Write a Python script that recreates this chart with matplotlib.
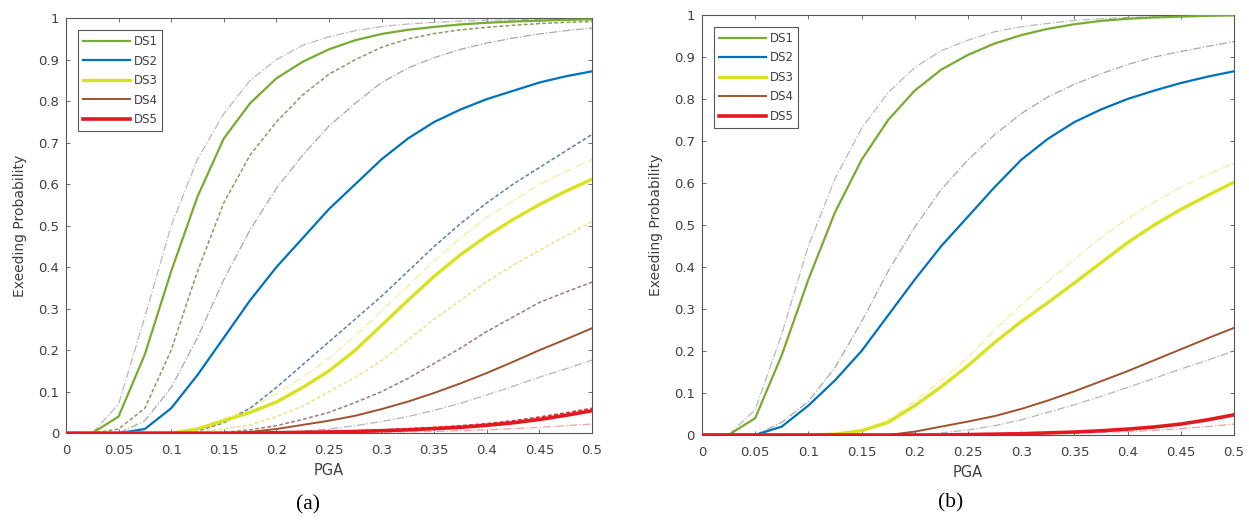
"""Exceedance probability curves, panels (a) and (b)."""

import matplotlib
matplotlib.use("Agg")
import matplotlib.pyplot as plt

pga = [0.0, 0.025, 0.05, 0.075, 0.1, 0.125, 0.15, 0.175, 0.2, 0.225, 0.25,
       0.275, 0.3, 0.325, 0.35, 0.375, 0.4, 0.425, 0.45, 0.475, 0.5]

ds_labels = ["DS1", "DS2", "DS3", "DS4", "DS5"]
xtick_vals = [0, 0.05, 0.1, 0.15, 0.2, 0.25, 0.3, 0.35, 0.4, 0.45, 0.5]
xtick_labels = ["0", "0.05", "0.1", "0.15", "0.2", "0.25", "0.3", "0.35", "0.4", "0.45", "0.5"]
ytick_vals = [0, 0.1, 0.2, 0.3, 0.4, 0.5, 0.6, 0.7, 0.8, 0.9, 1.0]
ytick_labels = ["0", "0.1", "0.2", "0.3", "0.4", "0.5", "0.6", "0.7", "0.8", "0.9", "1"]

# panel (a): main curves
a_main = [
    [0, 0, 0.04, 0.19, 0.39, 0.57, 0.71, 0.795, 0.855, 0.895, 0.925, 0.947, 0.962, 0.972, 0.979, 0.985, 0.989, 0.992, 0.994, 0.996, 0.997],
    [0, 0, 0, 0.01, 0.06, 0.14, 0.23, 0.32, 0.40, 0.47, 0.54, 0.60, 0.66, 0.71, 0.75, 0.78, 0.805, 0.825, 0.845, 0.86, 0.872],
    [0, 0, 0, 0, 0, 0.01, 0.03, 0.05, 0.075, 0.11, 0.15, 0.20, 0.26, 0.32, 0.378, 0.43, 0.475, 0.515, 0.551, 0.583, 0.612],
    [0, 0, 0, 0, 0, 0, 0, 0.003, 0.01, 0.02, 0.03, 0.042, 0.058, 0.076, 0.097, 0.12, 0.145, 0.172, 0.2, 0.226, 0.253],
    [0, 0, 0, 0, 0, 0, 0, 0, 0.001, 0.002, 0.003, 0.004, 0.006, 0.008, 0.011, 0.014, 0.019, 0.025, 0.033, 0.043, 0.054],
]
# panel (a): alternative model (dashed with markers)
a_alt = [
    [0, 0, 0.01, 0.06, 0.2, 0.39, 0.555, 0.67, 0.75, 0.815, 0.865, 0.90, 0.93, 0.95, 0.963, 0.972, 0.978, 0.983, 0.987, 0.99, 0.992],
    [0, 0, 0, 0, 0, 0.005, 0.025, 0.06, 0.11, 0.165, 0.22, 0.275, 0.33, 0.39, 0.45, 0.505, 0.555, 0.60, 0.64, 0.68, 0.72],
    [0, 0, 0, 0, 0, 0.003, 0.01, 0.02, 0.04, 0.065, 0.1, 0.135, 0.175, 0.225, 0.275, 0.32, 0.365, 0.405, 0.44, 0.475, 0.51],
    [0, 0, 0, 0, 0, 0, 0.002, 0.008, 0.018, 0.033, 0.05, 0.074, 0.1, 0.132, 0.168, 0.205, 0.245, 0.28, 0.315, 0.34, 0.364],
    [0, 0, 0, 0, 0, 0, 0, 0, 0.001, 0.002, 0.004, 0.006, 0.008, 0.011, 0.014, 0.018, 0.023, 0.03, 0.039, 0.049, 0.06],
]
# panel (a): reference curves (thin dash-dot)
a_ref = [
    [0, 0, 0.07, 0.28, 0.50, 0.66, 0.77, 0.85, 0.90, 0.935, 0.955, 0.97, 0.98, 0.986, 0.99, 0.993, 0.995, 0.996, 0.997, 0.998, 0.998],
    [0, 0, 0, 0.03, 0.11, 0.23, 0.37, 0.49, 0.59, 0.67, 0.74, 0.795, 0.845, 0.88, 0.905, 0.925, 0.94, 0.952, 0.962, 0.97, 0.976],
    [0, 0, 0, 0, 0, 0.012, 0.035, 0.06, 0.095, 0.135, 0.18, 0.235, 0.295, 0.355, 0.415, 0.47, 0.52, 0.56, 0.60, 0.63, 0.66],
    [0, 0, 0, 0, 0, 0, 0, 0, 0, 0.005, 0.01, 0.018, 0.028, 0.04, 0.055, 0.072, 0.092, 0.113, 0.135, 0.155, 0.176],
    [0, 0, 0, 0, 0, 0, 0, 0, 0, 0, 0, 0.001, 0.002, 0.003, 0.004, 0.006, 0.008, 0.011, 0.014, 0.018, 0.022],
]

# panel (b): main curves
b_main = [
    [0, 0, 0.04, 0.19, 0.37, 0.53, 0.655, 0.75, 0.82, 0.87, 0.905, 0.932, 0.952, 0.967, 0.978, 0.986, 0.991, 0.994, 0.996, 0.998, 0.999],
    [0, 0, 0, 0.02, 0.07, 0.13, 0.2, 0.285, 0.37, 0.45, 0.52, 0.59, 0.655, 0.705, 0.745, 0.775, 0.80, 0.82, 0.838, 0.853, 0.866],
    [0, 0, 0, 0, 0, 0.002, 0.01, 0.03, 0.07, 0.115, 0.165, 0.22, 0.27, 0.315, 0.362, 0.41, 0.458, 0.50, 0.537, 0.57, 0.602],
    [0, 0, 0, 0, 0, 0, 0, 0, 0.008, 0.02, 0.032, 0.045, 0.062, 0.082, 0.104, 0.128, 0.152, 0.178, 0.204, 0.23, 0.255],
    [0, 0, 0, 0, 0, 0, 0, 0, 0, 0, 0.001, 0.002, 0.003, 0.005, 0.007, 0.01, 0.014, 0.019, 0.026, 0.036, 0.048],
]
# panel (b): reference curves (thin dash-dot)
b_ref = [
    [0, 0, 0.06, 0.24, 0.45, 0.61, 0.73, 0.815, 0.875, 0.915, 0.94, 0.96, 0.972, 0.98, 0.987, 0.991, 0.994, 0.996, 0.997, 0.998, 0.999],
    [0, 0, 0, 0.03, 0.08, 0.16, 0.27, 0.39, 0.495, 0.585, 0.655, 0.715, 0.765, 0.805, 0.835, 0.86, 0.882, 0.9, 0.913, 0.925, 0.937],
    [0, 0, 0, 0, 0, 0.003, 0.012, 0.035, 0.08, 0.13, 0.185, 0.25, 0.31, 0.365, 0.418, 0.47, 0.515, 0.555, 0.59, 0.62, 0.647],
    [0, 0, 0, 0, 0, 0, 0, 0, 0, 0.005, 0.012, 0.022, 0.036, 0.054, 0.072, 0.092, 0.113, 0.135, 0.157, 0.178, 0.2],
    [0, 0, 0, 0, 0, 0, 0, 0, 0, 0, 0, 0.001, 0.002, 0.003, 0.004, 0.006, 0.008, 0.011, 0.015, 0.02, 0.026],
]

colors = ["#77AC30", "#0072BD", "#D9E21F", "#A0522D", "#E3191F"]
widths = [1.6, 1.6, 2.4, 1.4, 2.6]
alt_colors = ["#8a9a60", "#5a7fa8", "#e2e58a", "#a07a78", "#d83030"]
ref_colors = ["#b8b8b8", "#a8a8a8", "#ecef9a", "#b5b5b5", "#f0a0a0"]

TEXT = "#404040"


def style_axes(ax):
    ax.set_xlim(0, 0.5)
    ax.set_ylim(0, 1)
    ax.set_xticks(xtick_vals)
    ax.set_xticklabels(xtick_labels)
    ax.set_yticks(ytick_vals)
    ax.set_yticklabels(ytick_labels)
    ax.tick_params(direction="in", top=True, right=True, length=3, width=0.6,
                   labelsize=9.5, colors="#555555", labelcolor=TEXT)
    ax.tick_params(axis="x", pad=8)
    ax.tick_params(axis="y", pad=5)
    for sp in ax.spines.values():
        sp.set_color("#555555")
        sp.set_linewidth(0.8)
    ax.set_xlabel("PGA", fontsize=10.5, color=TEXT, labelpad=4)
    ax.set_ylabel("Exeeding Probability", fontsize=10, color=TEXT, labelpad=8)


fig = plt.figure(figsize=(12.49, 5.2), dpi=100)
ax_a = fig.add_axes([0.0528, 0.167, 0.4212, 0.798])
ax_b = fig.add_axes([0.562, 0.1635, 0.426, 0.8077])

# panel (a)
for i in range(5):
    ax_a.plot(pga, a_ref[i], color=ref_colors[i], lw=0.9, ls="-.", zorder=2)
    ax_a.plot(pga, a_alt[i], color=alt_colors[i], lw=1.1, ls=(0, (2.5, 1.5)),
              zorder=3)
for i in range(5):
    ax_a.plot(pga, a_main[i], color=colors[i], lw=widths[i], zorder=4,
              label=ds_labels[i])

# panel (b)
for i in range(5):
    ax_b.plot(pga, b_ref[i], color=ref_colors[i], lw=0.9, ls="-.", zorder=2)
for i in range(5):
    ax_b.plot(pga, b_main[i], color=colors[i], lw=widths[i], zorder=4,
              label=ds_labels[i])

for ax in (ax_a, ax_b):
    style_axes(ax)
    leg = ax.legend(loc="upper left", bbox_to_anchor=(0.012, 0.985), fontsize=8.5,
                    handlelength=4.0, labelspacing=0.55, handletextpad=0.3,
                    borderpad=0.4, fancybox=False, framealpha=1)
    leg.get_frame().set_edgecolor("#555555")
    leg.get_frame().set_linewidth(0.8)
    for t in leg.get_texts():
        t.set_color(TEXT)

fig.text(0.2466, 0.029, "(a)", ha="center", va="center", fontsize=15.5,
         family="Liberation Serif", color="black")
fig.text(0.761, 0.033, "(b)", ha="center", va="center", fontsize=15.5,
         family="Liberation Serif", color="black")

fig.savefig("out.png", dpi=100)
plt.close(fig)
